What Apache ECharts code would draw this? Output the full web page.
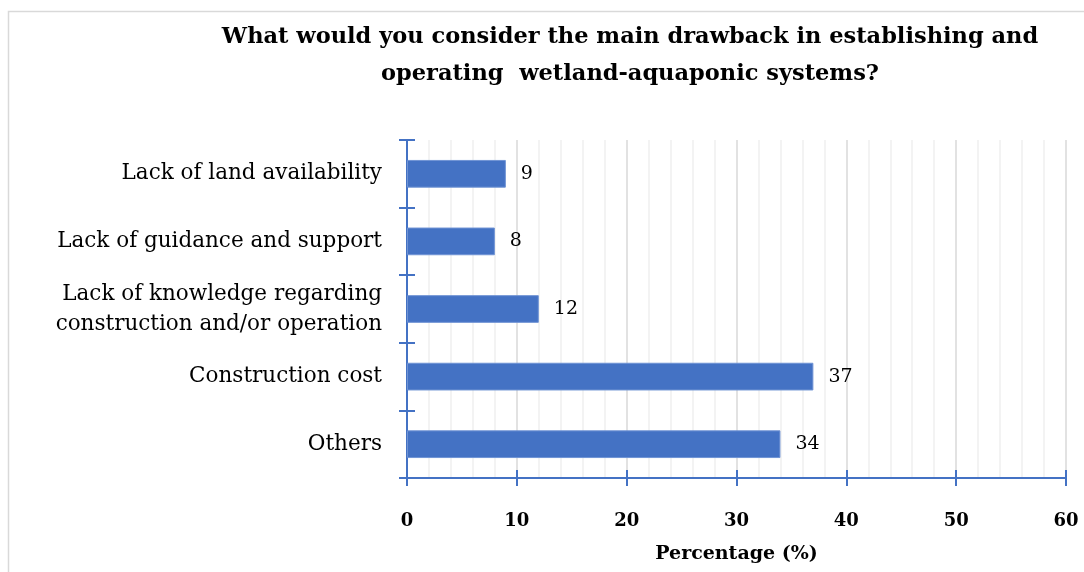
<!DOCTYPE html>
<html>
<head>
<meta charset="utf-8">
<script src="https://cdn.jsdelivr.net/npm/echarts@6/dist/echarts.min.js"></script>
<style>
  html, body { margin: 0; padding: 0; background: #fff; }
  #chart { width: 1084px; height: 572px; }
</style>
</head>
<body>
<div id="chart"></div>
<script>
// Survey answers: main drawback of wetland-aquaponic systems
const categories = [
  'Lack of land availability',
  'Lack of guidance and support',
  'Lack of knowledge regarding\nconstruction and/or operation',
  'Construction cost',
  'Others'
];
const percentages = [9, 8, 12, 37, 34];
const xTicks = { min: 0, max: 60, interval: 10 };

const SERIF = '"DejaVu Serif", "Liberation Serif", serif';
const BLUE = '#4472C4';

const chart = echarts.init(document.getElementById('chart'), null, { renderer: 'canvas' });

chart.setOption({
  backgroundColor: '#fff',
  animation: false,
  title: {
    text: 'What would you consider the main drawback in establishing and\noperating  wetland-aquaponic systems?',
    left: 625,
    top: 14,
    textAlign: 'center',
    textStyle: {
      fontFamily: SERIF,
      fontWeight: 'bold',
      fontSize: 22.5,
      lineHeight: 37,
      color: '#000'
    }
  },
  graphic: [{
    type: 'rect',
    shape: { x: 8.5, y: 11.5, width: 1090, height: 580 },
    style: { fill: 'none', stroke: '#d9d9d9', lineWidth: 1.5 },
    silent: true,
    z: -1
  }],
  grid: { left: 407, right: 18, top: 140, bottom: 94, containLabel: false, outerBoundsMode: 'none' },
  xAxis: [{
    type: 'value',
    min: xTicks.min,
    max: xTicks.max,
    interval: xTicks.interval,
    axisLine: { show: true, lineStyle: { color: BLUE, width: 2 } },
    axisTick: { show: true, length: 8, lineStyle: { color: BLUE, width: 2 } },
    axisLabel: {
      margin: 34,
      fontFamily: SERIF,
      fontWeight: 'bold',
      fontSize: 18,
      color: '#000'
    },
    splitLine: { show: true, lineStyle: { color: '#d9d9d9', width: 1.5 } },
    minorTick: { show: false, splitNumber: 5 },
    minorSplitLine: { show: true, lineStyle: { color: '#f0f0f0', width: 1.5 } },
    name: 'Percentage (%)',
    nameLocation: 'middle',
    nameGap: 67,
    nameTextStyle: {
      fontFamily: SERIF,
      fontWeight: 'bold',
      fontSize: 19,
      color: '#000'
    }
  }, {
    // inward half of the crossing tick marks
    type: 'value',
    position: 'bottom',
    min: xTicks.min,
    max: xTicks.max,
    interval: xTicks.interval,
    axisLine: { show: false },
    axisTick: { show: true, inside: true, length: 8, lineStyle: { color: BLUE, width: 2 } },
    axisLabel: { show: false },
    splitLine: { show: false }
  }],
  yAxis: [{
    type: 'category',
    data: categories,
    inverse: true,
    axisLine: { show: true, lineStyle: { color: BLUE, width: 2 } },
    axisTick: { show: true, length: 8, alignWithLabel: false, lineStyle: { color: BLUE, width: 2 } },
    axisLabel: {
      margin: 25,
      fontFamily: SERIF,
      fontSize: 21.5,
      lineHeight: 30,
      color: '#000',
      align: 'right'
    },
    splitLine: { show: false }
  }, {
    type: 'category',
    data: categories,
    inverse: true,
    position: 'left',
    axisLine: { show: false },
    axisTick: { show: true, inside: true, length: 8, alignWithLabel: false, lineStyle: { color: BLUE, width: 2 } },
    axisLabel: { show: false },
    splitLine: { show: false }
  }],
  series: [{
    type: 'bar',
    data: percentages,
    barWidth: '41%',
    itemStyle: { color: BLUE, borderColor: '#6f93d4', borderWidth: 1 },
    label: {
      show: true,
      position: 'right',
      distance: 15,
      fontFamily: SERIF,
      fontSize: 19,
      color: '#000'
    },
    z: 2
  }]
});
</script>
</body>
</html>
